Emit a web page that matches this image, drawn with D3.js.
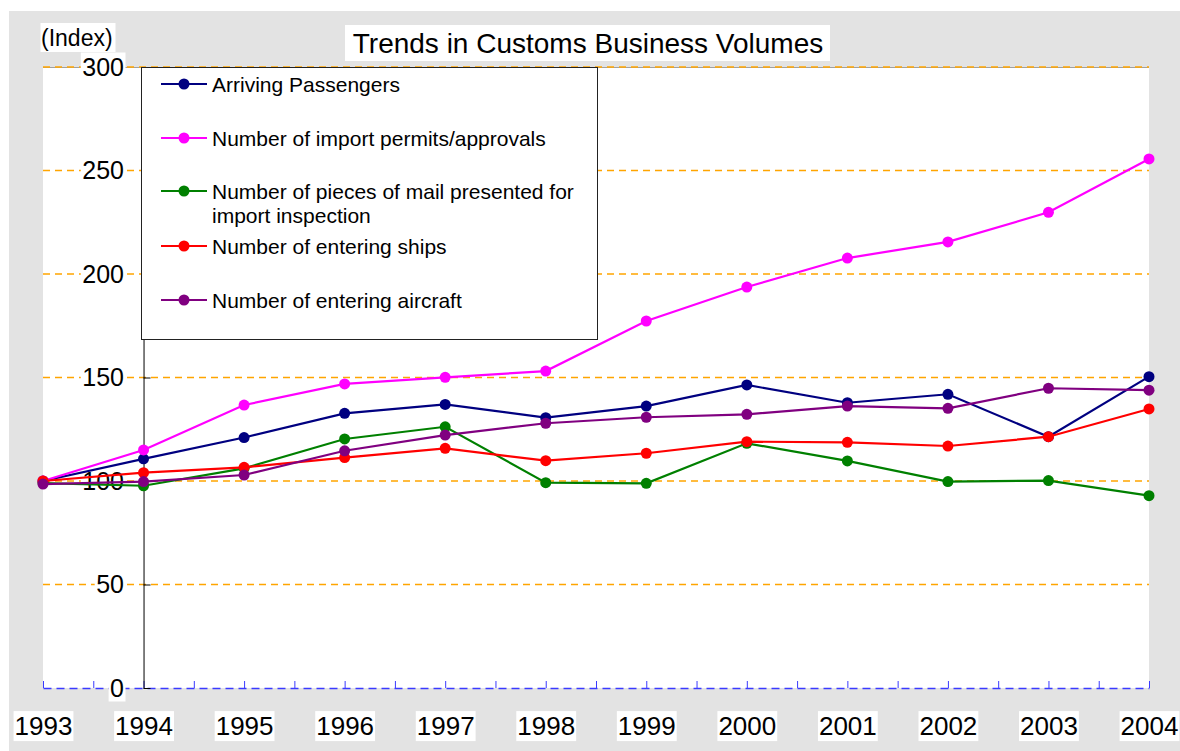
<!DOCTYPE html>
<html>
<head>
<meta charset="utf-8">
<script src="https://cdn.jsdelivr.net/npm/d3@7"></script>
<style>
  html, body { margin: 0; padding: 0; background: #ffffff; }
  svg { display: block; font-family: Arial, "Liberation Sans", sans-serif; }
</style>
</head>
<body>
<svg id="chart" width="1180" height="751"></svg>
<script>
// ---- Data ----
const years = ["1993","1994","1995","1996","1997","1998","1999","2000","2001","2002","2003","2004"];
const yTicks = [0, 50, 100, 150, 200, 250, 300];
const arrivingPassengers = [100, 110.7, 121, 132.7, 137, 130.6, 136.2, 146.4, 137.8, 141.9, 121.4, 150.4];
const importPermits      = [100, 115, 136.7, 146.9, 150.1, 153.1, 177.3, 193.7, 207.7, 215.5, 229.8, 255.6];
const mailPieces         = [99, 97.7, 106.1, 120.3, 126.2, 99.2, 98.9, 118.2, 109.7, 99.7, 100.2, 92.9];
const enteringShips      = [100, 104, 106.6, 111.3, 115.8, 109.8, 113.4, 119, 118.7, 116.9, 121.4, 134.8];
const enteringAircraft   = [98.5, 99.7, 102.9, 114.6, 122.2, 127.9, 130.8, 132.2, 136.2, 135.1, 144.8, 143.9];
const seriesNames = [
  "Arriving Passengers",
  "Number of import permits/approvals",
  "Number of pieces of mail presented for|import inspection",
  "Number of entering ships",
  "Number of entering aircraft"
];
const seriesColors = ["#000080", "#ff00ff", "#008000", "#ff0000", "#800080"];
const seriesValues = [arrivingPassengers, importPermits, mailPieces, enteringShips, enteringAircraft];

// ---- Layout ----
const svg = d3.select("#chart");
const L = 43, R = 1149, T = 67, B = 688;

const x = d3.scalePoint().domain(years).range([L, R]);
const xLin = d3.scaleLinear().domain([1993, 2004]).range([L, R]);
const y = d3.scaleLinear().domain([0, 300]).range([B, T]);

// grey panel background
svg.append("rect").attr("x", 9).attr("y", 11).attr("width", 1180 - 9).attr("height", 751 - 11).attr("fill", "#e3e3e3");
// plot area
svg.append("rect").attr("x", L).attr("y", T).attr("width", R - L).attr("height", B - T).attr("fill", "#ffffff");
svg.append("line").attr("x1", L).attr("x2", R).attr("y1", T + 0.5).attr("y2", T + 0.5).attr("stroke", "#a0a0a0").attr("stroke-width", 1);

// gridlines
const grid = svg.append("g").attr("transform", `translate(${L},0)`)
  .call(d3.axisLeft(y).offset(0).tickValues(yTicks.filter(v => v > 0)).tickSize(-(R - L)).tickFormat(""));
grid.select(".domain").remove();
grid.selectAll(".tick line").attr("stroke", "#ffa500").attr("stroke-width", 1.6).attr("stroke-dasharray", "7,5");

// x axis: blue dashed baseline with half-category ticks
const xAxisG = svg.append("g").attr("transform", `translate(0,${B})`)
  .call(d3.axisBottom(xLin).tickValues(d3.range(1993, 2004.01, 0.5)).tickSizeInner(-7).tickSizeOuter(0).tickFormat(""));
xAxisG.select(".domain").attr("stroke", "#3a3aff").attr("stroke-width", 1.5).attr("stroke-dasharray", "8,5");
xAxisG.selectAll(".tick line").attr("stroke", "#3a3aff").attr("stroke-width", 1);

// y axis line at 1994 with ticks to the right
const yAxisG = svg.append("g").attr("transform", `translate(${x("1994")},0)`)
  .call(d3.axisRight(y).tickValues(yTicks).tickSizeInner(7).tickSizeOuter(0).tickFormat(""));
yAxisG.select(".domain").attr("stroke", "#000").attr("stroke-width", 1);
yAxisG.selectAll(".tick line").attr("stroke", "#000");

// helper: white boxes behind labels
function boxLabels(g, padX, padY) {
  g.selectAll(".tick").each(function() {
    const t = d3.select(this).select("text");
    const bb = t.node().getBBox();
    d3.select(this).insert("rect", "text")
      .attr("x", bb.x - padX).attr("y", bb.y - padY)
      .attr("width", bb.width + 2 * padX).attr("height", bb.height + 2 * padY)
      .attr("fill", "#ffffff");
  });
}

// y labels
const yLab = svg.append("g").attr("transform", `translate(124,0)`)
  .call(d3.axisLeft(y).tickValues(yTicks).tickSize(0).tickPadding(0).tickFormat(d3.format("d")));
yLab.select(".domain").remove();
yLab.selectAll("text").attr("font-size", 25).attr("fill", "#000").attr("font-family", "Arial, 'Liberation Sans', sans-serif");
boxLabels(yLab, 1.5, 0);

// x labels
const xLab = svg.append("g").attr("transform", `translate(0,726)`)
  .call(d3.axisBottom(x).tickSize(0).tickPadding(0));
xLab.select(".domain").remove();
xLab.selectAll("text").attr("y", 0).attr("dy", "0.35em").attr("font-size", 26).attr("fill", "#000")
  .attr("font-family", "Arial, 'Liberation Sans', sans-serif");
boxLabels(xLab, 1, 0);

// series
const line = d3.line().x((d, i) => x(years[i])).y(d => y(d));
seriesValues.forEach((vals, si) => {
  const g = svg.append("g");
  g.append("path").datum(vals).attr("d", line).attr("fill", "none")
    .attr("stroke", seriesColors[si]).attr("stroke-width", 2.2);
  g.selectAll("circle").data(vals).join("circle")
    .attr("cx", (d, i) => x(years[i])).attr("cy", d => y(d)).attr("r", 5.5)
    .attr("fill", seriesColors[si]);
});

// legend
const leg = svg.append("g");
leg.append("rect").attr("x", 141.5).attr("y", 67.5).attr("width", 456).attr("height", 272)
  .attr("fill", "#ffffff").attr("stroke", "#222").attr("stroke-width", 1);
const legY = [84, 138, 191, 246, 300];
seriesNames.forEach((name, i) => {
  const gy = legY[i];
  leg.append("line").attr("x1", 161).attr("x2", 207).attr("y1", gy).attr("y2", gy)
    .attr("stroke", seriesColors[i]).attr("stroke-width", 2.2);
  leg.append("circle").attr("cx", 184).attr("cy", gy).attr("r", 5.5).attr("fill", seriesColors[i]);
  const parts = name.split("|");
  const t = leg.append("text").attr("x", 212).attr("y", gy).attr("font-size", 21).attr("fill", "#000")
    .attr("dominant-baseline", "central");
  parts.forEach((p, k) => {
    t.append("tspan").attr("x", 212).attr("dy", k === 0 ? 0 : 24).text(p);
  });
});

// title
const title = svg.append("g");
title.append("rect").attr("x", 345).attr("y", 25).attr("width", 485).attr("height", 36).attr("fill", "#ffffff");
title.append("text").attr("x", 588).attr("y", 43).attr("text-anchor", "middle").attr("dominant-baseline", "central")
  .attr("font-size", 28).attr("fill", "#000").text("Trends in Customs Business Volumes");

// y axis unit
const unit = svg.append("g");
unit.append("rect").attr("x", 40.5).attr("y", 23).attr("width", 75).attr("height", 29).attr("fill", "#ffffff");
unit.append("text").attr("x", 41).attr("y", 38).attr("dominant-baseline", "central")
  .attr("font-size", 23).attr("fill", "#000").text("(Index)");
</script>
</body>
</html>
